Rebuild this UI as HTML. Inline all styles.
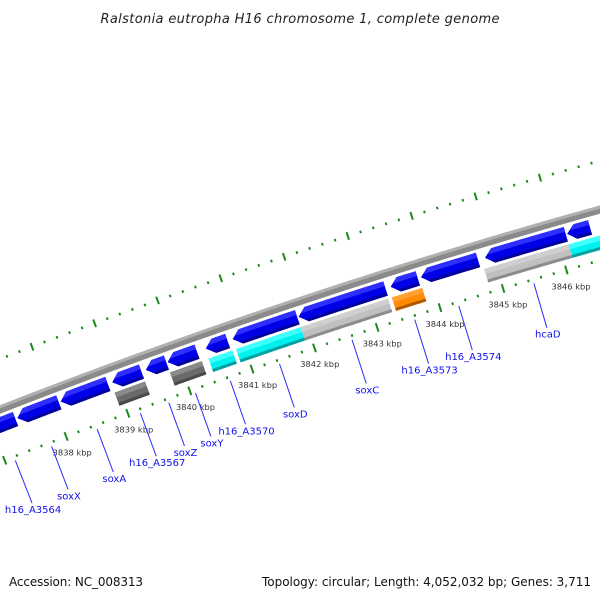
<!DOCTYPE html>
<html><head><meta charset="utf-8"><style>
html,body{margin:0;padding:0;background:#fff;}
svg{display:block;}
text{font-family:"DejaVu Sans","Liberation Sans",sans-serif;}
</style></head><body>
<svg id="map" width="600" height="600" viewBox="0 0 600 600" xmlns="http://www.w3.org/2000/svg">
<text x="300" y="23" text-anchor="middle" font-size="13" font-style="italic" fill="#222" textLength="399">Ralstonia eutropha H16 chromosome 1, complete genome</text>
<text x="9" y="586" font-size="12" fill="#111" textLength="134">Accession: NC_008313</text>
<text x="591" y="586" text-anchor="end" font-size="12" fill="#111" textLength="329">Topology: circular; Length: 4,052,032 bp; Genes: 3,711</text>
<defs id="defs"></defs>
<g id="layer"></g>
</svg>
<script>
// ---- data ----
const tickKbpStart = 3835;
const tickKbpEnd = 3848;
const kbpLabels = [3838,3839,3840,3841,3842,3843,3844,3845,3846];
const blueStarts = [3836.3,3837.41,3838.11,3838.94,3839.48,3839.83,3840.44,3840.87,3841.92,3843.38,3843.86,3844.87,3846.16];
const blueEnds   = [3837.38,3838.08,3838.87,3839.41,3839.81,3840.30,3840.79,3841.90,3843.30,3843.81,3844.76,3846.14,3846.52];
const rowStarts = [3838.92,3839.81,3840.43,3840.87,3841.90,3843.35,3844.81,3846.14];
const rowEnds   = [3839.41,3840.32,3840.81,3841.90,3843.29,3843.83,3846.14,3847.0];
const rowTypes  = ["dark","dark","cyan","cyan","light","orange","light","cyan"];
const geneNames = ["h16_A3564","soxX","soxA","h16_A3567","soxZ","soxY","h16_A3570","soxD","soxC","h16_A3573","h16_A3574","hcaD"];
const geneLabelKbp = [3837.19,3837.78,3838.52,3839.22,3839.68,3840.11,3840.67,3841.46,3842.62,3843.62,3844.32,3845.51];

// ---- geometry ----
const Cx=2270, Cy=6223;
const NS="http://www.w3.org/2000/svg";
function ang(k){return (-110.24+(k-3839)*0.61)*Math.PI/180;}
function P(k,r){const a=ang(k);return [Cx+r*Math.cos(a),Cy+r*Math.sin(a)];}
const layer=document.getElementById('layer');
const defs=document.getElementById('defs');
function mk(tag,attrs,parent){const e=document.createElementNS(NS,tag);for(const k in attrs)e.setAttribute(k,attrs[k]);(parent||layer).appendChild(e);return e;}
function arcBand(k0,k1,r0,r1){
  const pts=[];const n=24;
  for(let i=0;i<=n;i++)pts.push(P(k0+(k1-k0)*i/n,r1));
  for(let i=n;i>=0;i--)pts.push(P(k0+(k1-k0)*i/n,r0));
  return pts.map(p=>p[0].toFixed(2)+','+p[1].toFixed(2)).join(' ');
}
function arrowPts(k0,k1,r0,r1){
  const head=Math.min(0.13,(k1-k0)*0.6);
  const pts=[P(k0,(r0+r1)/2)];const n=24;
  for(let i=0;i<=n;i++)pts.push(P(k0+head+(k1-k0-head)*i/n,r1));
  for(let i=n;i>=0;i--)pts.push(P(k0+head+(k1-k0-head)*i/n,r0));
  return pts.map(p=>p[0].toFixed(2)+','+p[1].toFixed(2)).join(' ');
}

// backbone
const bb=mk('polygon',{points:arcBand(3834,3849,6237,6245),fill:'#8a8a8a'});


const bb2=mk('polygon',{points:arcBand(3834,3849,6242,6245),fill:'#b0b0b0'});



// ticks
for(let t=tickKbpStart*5;t<=tickKbpEnd*5;t++){
  const k=t/5;const major=(t%5===0);
  const rings=[[6288,major?4:1.3],[6192,major?4.5:1.3]];
  rings.forEach((rg,j)=>{
    const a=P(k,rg[0]-rg[1]),b=P(k,rg[0]+rg[1]);
    const ln=mk('line',{x1:a[0],y1:a[1],x2:b[0],y2:b[1],stroke:'#1a8a1a','stroke-width':2});
    
    
  });
}

// kbp labels
kbpLabels.forEach(k=>{
  const p=P(k,6175);
  const tx=mk('text',{x:p[0].toFixed(1),y:(p[1]+3).toFixed(1),'text-anchor':'middle','font-size':8.3,fill:'#333'});
  tx.textContent=k+' kbp';
  
  
});

// blue genes (reverse arrows)
blueStarts.forEach((s,i)=>{
  const e=blueEnds[i];
  const id='cb'+i;
  const cp=mk('clipPath',{id:id},defs);
  mk('polygon',{points:arrowPts(s,e,6219,6234)},cp);
  const g=mk('g',{'clip-path':'url(#'+id+')'});
  
  
  mk('polygon',{points:arcBand(s-0.2,e+0.2,6217,6236),fill:'#0000e6'},g);
  mk('polygon',{points:arcBand(s-0.2,e+0.2,6229,6236),fill:'#2e2eff'},g);
  mk('polygon',{points:arcBand(s-0.2,e+0.2,6217,6222),fill:'#00009a'},g);
});

// second row
const rowColors={dark:['#6a6a6a','#8a8a8a','#4a4a4a'],light:['#c0c0c0','#cfcfcf','#8c8c8c'],cyan:['#00f0f0','#40ffff','#00a0a0'],orange:['#ff8c00','#ffa030','#b05a00']};
rowStarts.forEach((s,i)=>{
  const e=rowEnds[i];const c=rowColors[rowTypes[i]];
  const g=mk('g',{});
  
  
  mk('polygon',{points:arcBand(s,e,6202,6216),fill:c[0]},g);
  mk('polygon',{points:arcBand(s,e,6211,6216),fill:c[1]},g);
  mk('polygon',{points:arcBand(s,e,6202,6205),fill:c[2]},g);
});

// gene labels
geneNames.forEach((n,i)=>{
  const k=geneLabelKbp[i]-0.04;
  const a=P(k,6188),b=P(k,6142);
  const ln=mk('line',{x1:a[0],y1:a[1],x2:b[0],y2:b[1],stroke:'#2a2aff','stroke-width':1});
  
  
  const tx=mk('text',{x:(b[0]+1).toFixed(1),y:(b[1]+10).toFixed(1),'text-anchor':'middle','font-size':10,fill:'#1010ee'});
  tx.textContent=n;
  
  
});
</script>
</body></html>
